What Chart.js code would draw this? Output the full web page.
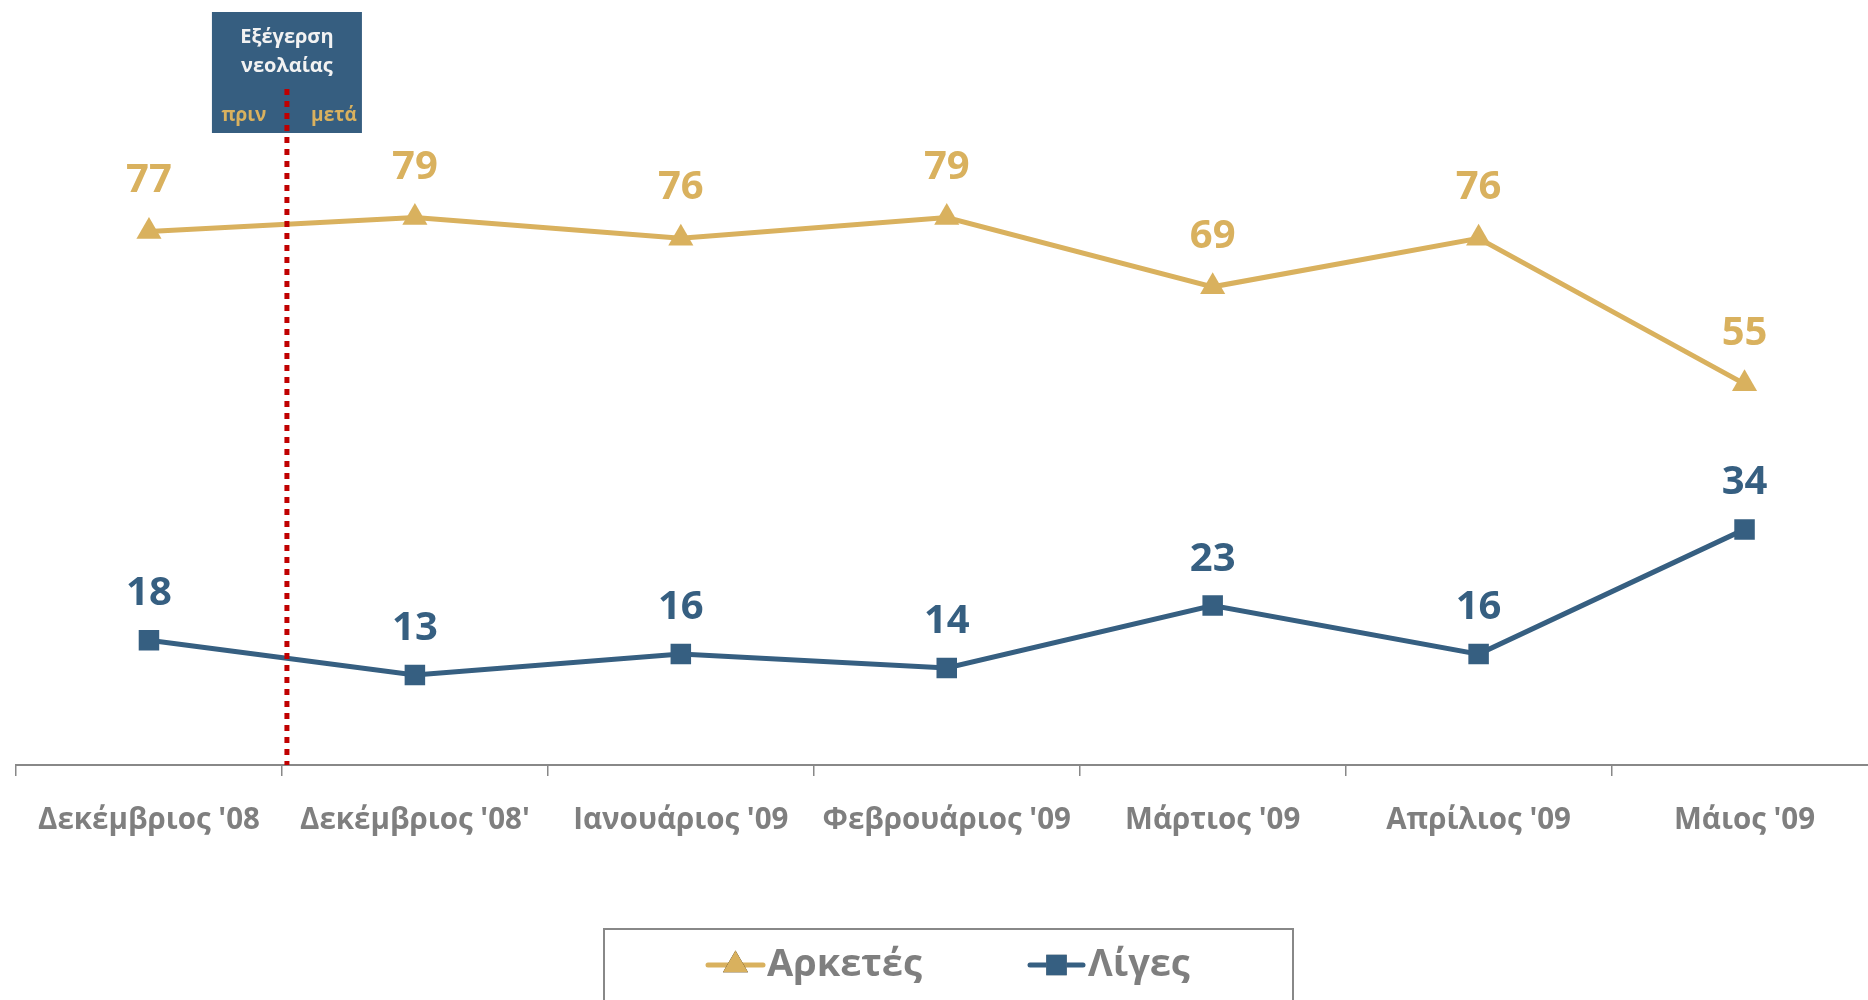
<!DOCTYPE html>
<html>
<head>
<meta charset="utf-8">
<script src="https://cdn.jsdelivr.net/npm/chart.js@4"></script>
<style>
  html, body { margin: 0; padding: 0; background: #ffffff; overflow: hidden; }
  #wrap { width: 1892px; height: 1000px; }
</style>
</head>
<body>
<div id="wrap"><canvas id="chart" width="1892" height="1000"></canvas></div>
<script>
const categories = ["Δεκέμβριος '08", "Δεκέμβριος '08'", "Ιανουάριος '09", "Φεβρουάριος '09", "Μάρτιος '09", "Απρίλιος '09", "Μάιος '09"];
const arketes = [77, 79, 76, 79, 69, 76, 55];
const liges = [18, 13, 16, 14, 23, 16, 34];
const seriesNames = ["Αρκετές", "Λίγες"];
const eventLines = ["Εξέγερση", "νεολαίας"];
const beforeAfter = ["πριν", "μετά"];

const GOLD = '#D9B15E';
const BLUE = '#365F81';
const GREY_TEXT = '#7F7F7F';
const AXIS = '#888888';
const RED = '#C00000';
const FONT = "'Open Sans', 'Noto Sans', sans-serif";

// numbers above each point
const valueLabels = {
    id: 'valueLabels',
    afterDatasetsDraw(chart) {
        const ctx = chart.ctx;
        ctx.save();
        ctx.font = 'bold 40px ' + FONT;
        ctx.textAlign = 'center';
        ctx.textBaseline = 'alphabetic';
        chart.data.datasets.forEach((ds, di) => {
            const meta = chart.getDatasetMeta(di);
            const lift = ds.labelLift;
            ctx.fillStyle = ds.borderColor;
            meta.data.forEach((pt, i) => {
                const cy = pt.y - lift;
                ctx.fillText(String(ds.data[i]), pt.x, cy + 14);
            });
        });
        ctx.restore();
    }
};

// category names under the axis (drawn here so they don't shrink the plot)
const categoryLabels = {
    id: 'categoryLabels',
    afterDraw(chart) {
        const ctx = chart.ctx;
        const xs = chart.scales.x;
        ctx.save();
        ctx.font = 'bold 29.5px ' + FONT;
        ctx.fillStyle = GREY_TEXT;
        ctx.textAlign = 'center';
        ctx.textBaseline = 'alphabetic';
        categories.forEach((c, i) => {
            ctx.fillText(c, xs.getPixelForValue(i), xs.top + 64);
        });
        ctx.restore();
    }
};

// event box + red dotted line between the first two months
const eventMarker = {
    id: 'eventMarker',
    afterDraw(chart) {
        const ctx = chart.ctx;
        const xs = chart.scales.x;
        const lineX = (xs.getPixelForValue(0) + xs.getPixelForValue(1)) / 2 + 5;
        ctx.save();
        ctx.fillStyle = '#365E80';
        ctx.fillRect(lineX - 75, 12, 150, 121);

        ctx.textAlign = 'center';
        ctx.textBaseline = 'middle';
        ctx.fillStyle = '#F2F2F2';
        ctx.font = 'bold 20px ' + FONT;
        ctx.fillText(eventLines[0], lineX, 37);
        ctx.fillText(eventLines[1], lineX, 66);

        ctx.fillStyle = GOLD;
        ctx.font = 'bold 19px ' + FONT;
        ctx.fillText(beforeAfter[0], lineX - 43, 116);
        ctx.fillText(beforeAfter[1], lineX + 47, 116);

        ctx.strokeStyle = RED;
        ctx.lineWidth = 5;
        ctx.setLineDash([6, 6]);
        ctx.beginPath();
        ctx.moveTo(lineX, 89);
        ctx.lineTo(lineX, chart.chartArea.bottom);
        ctx.stroke();
        ctx.restore();
    }
};

// boxed legend at the bottom, line + marker + name
const boxedLegend = {
    id: 'boxedLegend',
    afterDraw(chart) {
        const ctx = chart.ctx;
        ctx.save();
        ctx.strokeStyle = AXIS;
        ctx.lineWidth = 2;
        ctx.strokeRect(604, 929, 689, 90);

        const items = [
            { x1: 708, x2: 763, tx: 767 },
            { x1: 1030, x2: 1083, tx: 1088 }
        ];
        const y = 965;
        chart.data.datasets.forEach((ds, di) => {
            const it = items[di];
            ctx.strokeStyle = ds.borderColor;
            ctx.lineWidth = 5;
            ctx.lineCap = 'round';
            ctx.setLineDash([]);
            ctx.beginPath();
            ctx.moveTo(it.x1, y);
            ctx.lineTo(it.x2, y);
            ctx.stroke();
            Chart.helpers.drawPoint(ctx, {
                pointStyle: ds.pointStyle,
                radius: 14.5,
                rotation: 0,
                borderWidth: 0
            }, (it.x1 + it.x2) / 2, y);
            ctx.fillStyle = ds.borderColor;
            ctx.fill();

            ctx.fillStyle = GREY_TEXT;
            ctx.font = 'bold 38px ' + FONT;
            ctx.textAlign = 'left';
            ctx.textBaseline = 'alphabetic';
            ctx.fillText(seriesNames[di], it.tx, 976);
        });
        ctx.restore();
    }
};

new Chart(document.getElementById('chart'), {
    type: 'line',
    data: {
        labels: categories,
        datasets: [
            {
                label: seriesNames[0],
                data: arketes,
                borderColor: GOLD,
                backgroundColor: GOLD,
                borderWidth: 5,
                tension: 0,
                pointStyle: 'triangle',
                pointRadius: 14.5,
                pointHoverRadius: 14.5,
                pointBorderWidth: 0,
                labelLift: 53
            },
            {
                label: seriesNames[1],
                data: liges,
                borderColor: BLUE,
                backgroundColor: BLUE,
                borderWidth: 5,
                tension: 0,
                pointStyle: 'rect',
                pointRadius: 14.5,
                pointHoverRadius: 14.5,
                pointBorderWidth: 0,
                labelLift: 49
            }
        ]
    },
    options: {
        responsive: false,
        animation: false,
        devicePixelRatio: 1,
        layout: { padding: { left: 16, right: 2, top: 72, bottom: 0 } },
        plugins: {
            legend: { display: false },
            tooltip: { enabled: false }
        },
        scales: {
            y: { display: false, min: 0, max: 100 },
            x: {
                offset: true,
                grid: {
                    offset: true,
                    drawOnChartArea: false,
                    drawTicks: true,
                    tickLength: 11,
                    color: AXIS,
                    lineWidth: 1.5
                },
                border: { display: true, color: AXIS, width: 2 },
                ticks: { display: false },
                afterFit(scale) { scale.height = 235; }
            }
        }
    },
    plugins: [valueLabels, categoryLabels, eventMarker, boxedLegend]
});
</script>
</body>
</html>
